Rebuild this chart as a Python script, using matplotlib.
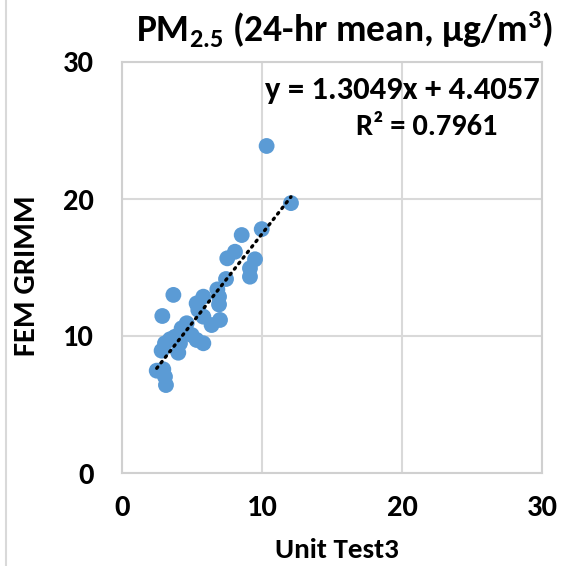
import matplotlib
matplotlib.use('Agg')
import matplotlib.pyplot as plt
import numpy as np
from matplotlib.lines import Line2D

plt.rcParams['font.family'] = 'Carlito'
plt.rcParams['font.weight'] = 'bold'
plt.rcParams['mathtext.fontset'] = 'custom'
plt.rcParams['mathtext.rm'] = 'Carlito:bold'
plt.rcParams['mathtext.it'] = 'Carlito:bold'
plt.rcParams['mathtext.bf'] = 'Carlito:bold'

# data (Unit Test3 vs FEM GRIMM, 24-hr mean PM2.5)
unit_test3 = [10.33, 12.07, 9.98, 8.55, 8.07, 7.52, 9.50, 9.14, 9.14, 7.43,
              6.81, 6.93, 5.81, 5.33, 6.93, 3.67, 5.45, 5.81, 2.88, 7.00,
              6.40, 4.62, 4.26, 3.79, 3.43, 4.98, 5.33, 5.81, 4.14, 3.07,
              2.83, 4.02, 2.48, 3.07, 3.14, 2.95]
fem_grimm = [23.87, 19.70, 17.80, 17.37, 16.15, 15.67, 15.60, 14.94, 14.33, 14.16,
             13.40, 12.87, 12.87, 12.38, 12.30, 13.00, 11.90, 11.41, 11.46, 11.17,
             10.80, 10.93, 10.56, 9.95, 9.76, 10.07, 9.71, 9.47, 9.47, 9.47,
             8.93, 8.78, 7.47, 7.03, 6.42, 7.57]
slope = 1.3049
intercept = 4.4057
r_squared = 0.7961
ticks = [0, 10, 20, 30]

W, H = 573, 566
fig = plt.figure(figsize=(W / 100, H / 100), dpi=100)
ax = fig.add_axes([122 / W, 1 - 473 / H, 420 / W, 411 / H])

ax.scatter(unit_test3, fem_grimm, s=130, color='#5B9BD5', edgecolors='none', zorder=3)

xfit = np.array([min(unit_test3), max(unit_test3)])
ax.plot(xfit, slope * xfit + intercept, color='black', lw=2.4,
        linestyle=(0, (0.5, 1.6)), dash_capstyle='round', zorder=4)

ax.set_xlim(0, 30)
ax.set_ylim(0, 30)
ax.set_xticks(ticks)
ax.set_yticks(ticks)
ax.tick_params(length=0, labelsize=22, pad=16)
ax.tick_params(axis='y', pad=20)
ax.grid(True, color='#d9d9d9', lw=1.5)
ax.set_axisbelow(True)
for sp in ax.spines.values():
    sp.set_color('#d0d0d0')
    sp.set_linewidth(1.5)

fig.text(337 / W, 1 - 550 / H, 'Unit Test3', ha='center', va='center', fontsize=21)
fig.text(27 / W, 1 - 276 / H, 'FEM GRIMM', ha='center', va='center',
         rotation=90, fontsize=22)
fig.text(344 / W, 1 - 30 / H, r'PM$_{\mathrm{2.5}}$ (24-hr mean, µg/m$^{\mathrm{3}}$)',
         ha='center', va='center', fontsize=27)

fig.text(540 / W, 1 - 90 / H, 'y = %.4fx + %.4f' % (slope, intercept),
         ha='right', va='center', fontsize=23.5)
fig.text(427 / W, 1 - 127 / H, 'R² = %.4f' % r_squared,
         ha='center', va='center', fontsize=22)

fig.add_artist(Line2D([6 / W, 6 / W], [0, 1], transform=fig.transFigure,
                      color='#d9d9d9', lw=1.5))

fig.savefig('out.png', dpi=100)
